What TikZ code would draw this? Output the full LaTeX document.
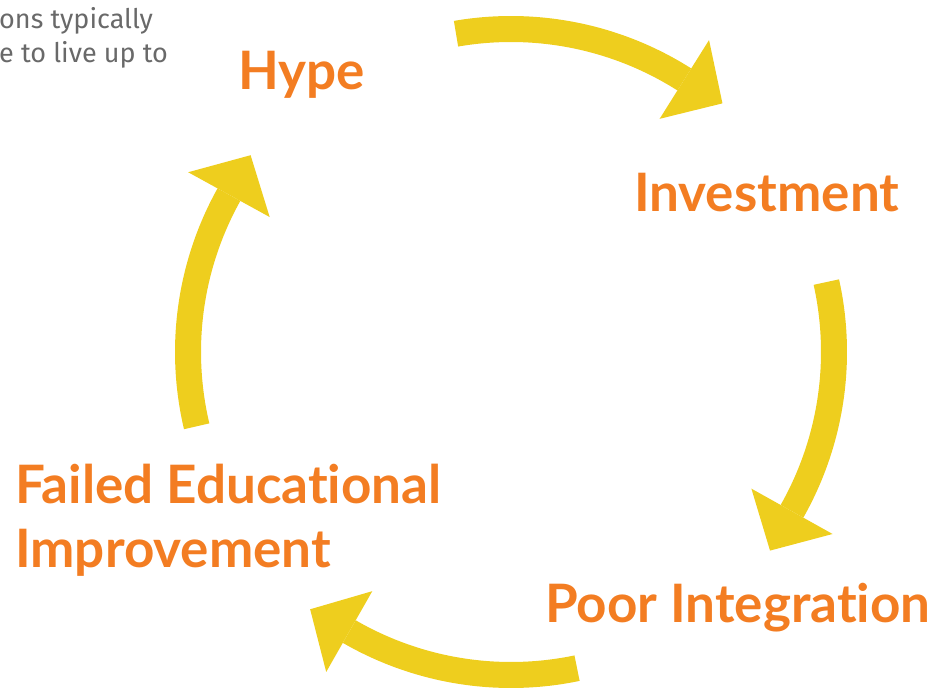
\documentclass[tikz,border=0pt]{standalone}
\usepackage{fontspec}
\setmainfont{Lato}[Ligatures=NoCommon]
\newfontfamily\notefont{Fira Sans}
\usetikzlibrary{arrows.meta}
\definecolor{stageorange}{RGB}{243,125,34}
\definecolor{loopyellow}{RGB}{238,206,30}
\definecolor{notegray}{RGB}{105,105,105}

\begin{document}
\begin{tikzpicture}[x=1pt, y=1pt,
    stage/.style ={inner sep=0pt, anchor=base west, text=stageorange,
      font=\fontsize{53}{64}\selectfont\bfseries},
    note/.style ={inner sep=0pt, anchor=base west, text=notegray,
      font=\notefont\fontsize{27}{34}\selectfont},
    looparrow/.style ={draw=loopyellow, line width=26pt, line join=round,
      -{Triangle[length=45pt, width=93pt, line width=0pt]}}]
   \useasboundingbox (0,0) rectangle (949,691);
   \coordinate (O) at (511,339);

   % cut-off note in the corner
   \node[note] (N1) at (-1,662) {ons typically};
   \node[note] (N2) at (-1,628) {e to live up to};

   % the four stages
   \node[stage] (H) at (238,601) {Hype};
   \node[stage] (I) at (634,479) {Investment};
   \node[stage] (P) at (545,69)  {Poor Integration};
   \node[stage] (F) at (15,188)  {Failed Educational};
   \node[stage] (E) at (15,124)  {Improvement};

   % arrows round the loop
   \draw[looparrow] (O) ++(99.8:323) arc[start angle=99.8, end angle=57.9, radius=323] -- ++(-32.1:47);
   \draw[looparrow] (O) ++(12.5:323) arc[start angle=12.5, end angle=-29.2, radius=323] -- ++(-119.2:47);
   \draw[looparrow] (O) ++(-78.2:323) arc[start angle=-78.2, end angle=-119.7, radius=323] -- ++(150.3:47);
   \draw[looparrow] (O) ++(193.3:323) arc[start angle=193.3, end angle=151.2, radius=323] -- ++(61.2:47);
 \end{tikzpicture}
\end{document}
